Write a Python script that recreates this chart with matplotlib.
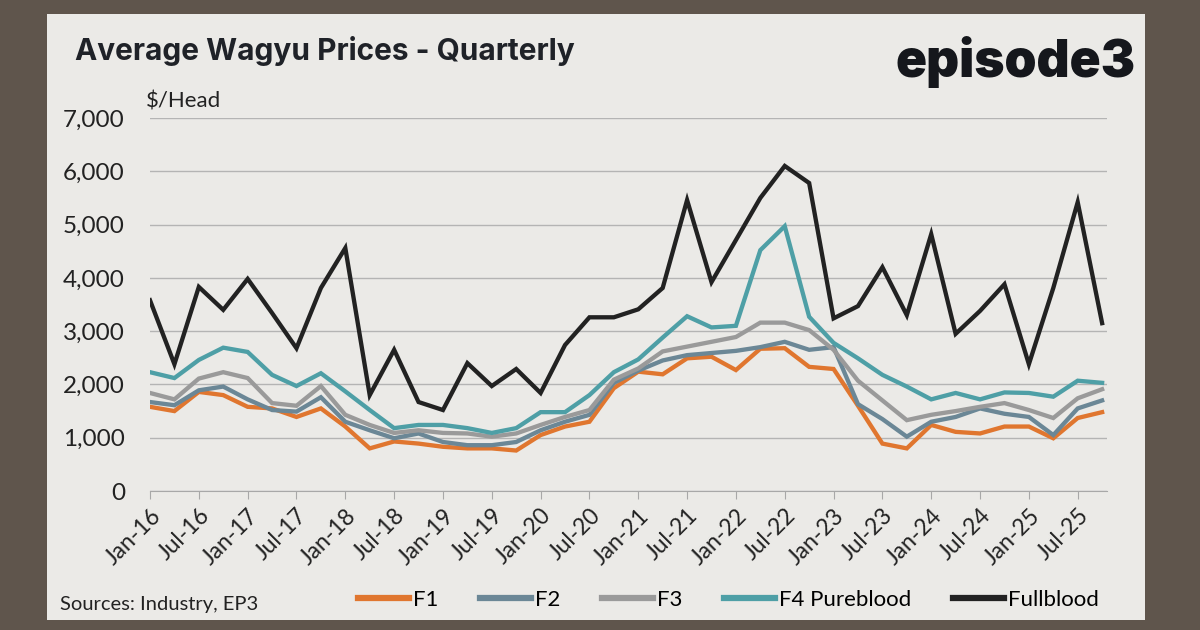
import matplotlib
matplotlib.use("Agg")
import matplotlib.pyplot as plt
from matplotlib.patches import Rectangle
from matplotlib.lines import Line2D
import numpy as np

plt.rcParams['font.family'] = ['Lato', 'DejaVu Sans']

# quarterly prices, Jan-16 .. Oct-25 ($/head)
quarters = ['Jan-16', 'Apr-16', 'Jul-16', 'Oct-16', 'Jan-17', 'Apr-17', 'Jul-17', 'Oct-17',
            'Jan-18', 'Apr-18', 'Jul-18', 'Oct-18', 'Jan-19', 'Apr-19', 'Jul-19', 'Oct-19',
            'Jan-20', 'Apr-20', 'Jul-20', 'Oct-20', 'Jan-21', 'Apr-21', 'Jul-21', 'Oct-21',
            'Jan-22', 'Apr-22', 'Jul-22', 'Oct-22', 'Jan-23', 'Apr-23', 'Jul-23', 'Oct-23',
            'Jan-24', 'Apr-24', 'Jul-24', 'Oct-24', 'Jan-25', 'Apr-25', 'Jul-25', 'Oct-25']

f1 = [1580, 1500, 1860, 1800, 1580, 1550, 1390, 1550, 1210, 800,
      930, 890, 830, 800, 800, 760, 1050, 1210, 1300, 1930,
      2240, 2190, 2490, 2520, 2270, 2670, 2680, 2330, 2290, 1600,
      890, 800, 1240, 1110, 1080, 1210, 1210, 990, 1370, 1480]
f2 = [1670, 1610, 1890, 1960, 1720, 1520, 1490, 1760, 1300, 1140,
      990, 1080, 920, 860, 860, 920, 1140, 1300, 1430, 2030,
      2260, 2450, 2550, 2590, 2630, 2700, 2800, 2650, 2700, 1630,
      1350, 1020, 1300, 1390, 1550, 1450, 1390, 1050, 1550, 1700]
f3 = [1840, 1720, 2110, 2230, 2120, 1650, 1600, 1970, 1430, 1240,
      1090, 1140, 1090, 1080, 1020, 1080, 1240, 1390, 1520, 2090,
      2300, 2620, 2710, 2800, 2890, 3160, 3160, 3020, 2650, 2070,
      1700, 1330, 1430, 1500, 1580, 1650, 1520, 1370, 1740, 1910]
f4 = [2230, 2120, 2460, 2690, 2610, 2180, 1970, 2210, 1870, 1520,
      1180, 1240, 1240, 1180, 1090, 1180, 1480, 1480, 1800, 2230,
      2470, 2880, 3280, 3070, 3100, 4520, 4970, 3270, 2780, 2490,
      2180, 1960, 1720, 1840, 1720, 1850, 1840, 1770, 2070, 2030]
fullblood = [3580, 2380, 3830, 3400, 3980, 3340, 2680, 3810, 4560, 1800,
             2650, 1670, 1520, 2400, 1970, 2290, 1840, 2740, 3260, 3260,
             3410, 3810, 5460, 3920, 4710, 5500, 6100, 5780, 3240, 3470,
             4200, 3300, 4820, 2950, 3380, 3880, 2380, 3810, 5420, 3150]

series = [
    ('F1', f1, '#e0762f'),
    ('F2', f2, '#6b8796'),
    ('F3', f3, '#9a9a9a'),
    ('F4 Pureblood', f4, '#4e9fa6'),
    ('Fullblood', fullblood, '#222222'),
]

fig = plt.figure(figsize=(12, 6.3), dpi=100, facecolor='#5f554c')
# light panel over the background
fig.patches.append(Rectangle((0.039, 0.016), 0.915, 0.962, transform=fig.transFigure,
                             facecolor='#ebeae7', edgecolor='none', zorder=-10))

ax = fig.add_axes([0.125, 0.2206, 0.7975, 0.5921])
ax.set_facecolor('none')

x = np.arange(len(quarters))
for name, vals, col in series:
    ax.plot(x, vals, color=col, lw=3.1, label=name, solid_joinstyle='miter', zorder=3)

ax.set_xlim(0, 39.2)
ax.set_ylim(0, 7000)
ax.set_yticks(np.arange(0, 7001, 1000))
ax.set_yticklabels([f'{v:,}' for v in range(0, 7001, 1000)], fontsize=17.5, color='#222222')
ax.yaxis.grid(True, color='#b4b4b4', lw=1)
ax.set_axisbelow(True)
ax.tick_params(axis='y', length=0, pad=18)

ax.set_xticks(x[::2])
ax.set_xticklabels(quarters[::2], rotation=45, ha='right', rotation_mode='anchor',
                   fontsize=16.5, color='#222222')
ax.tick_params(axis='x', length=6, color='#a8a8a8', pad=4)

for s in ['top', 'right', 'left']:
    ax.spines[s].set_visible(False)
ax.spines['bottom'].set_color('#a8a8a8')

fig.text(0.0625, 0.905, 'Average Wagyu Prices - Quarterly', fontsize=21.5, fontweight='bold',
         color='#1f2228', family=['Inter', 'DejaVu Sans'])
fig.text(0.946, 0.878, 'episode3', fontsize=37, fontweight='black', color='#15171c', ha='right',
         family=['Inter', 'DejaVu Sans'])
fig.text(0.122, 0.83, '$/Head', fontsize=16, color='#222222')
fig.text(0.05, 0.04, 'Sources: Industry, EP3', fontsize=14.5, color='#222222', va='center')

handles = [Line2D([], [], color=col, lw=4.5) for _, _, col in series]
fig.legend(handles=handles, labels=[s[0] for s in series], loc='center',
           bbox_to_anchor=(0.607, 0.048), ncol=5, frameon=False, fontsize=16,
           handlelength=2.3, handletextpad=0.15, columnspacing=1.9)

fig.savefig('out.png', dpi=100, facecolor=fig.get_facecolor())
